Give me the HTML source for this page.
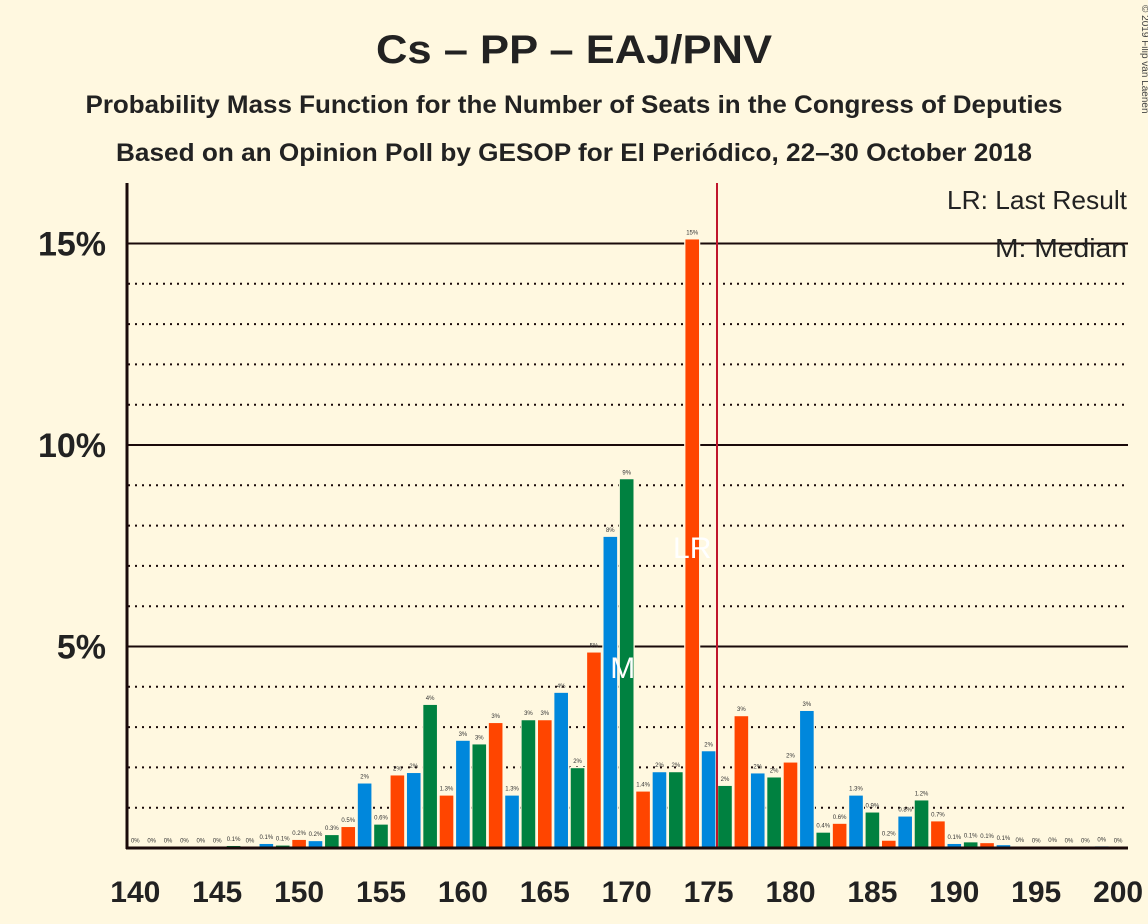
<!DOCTYPE html>
<html><head><meta charset="utf-8"><style>
body{margin:0;background:#FFF8E0;}
svg{display:block;font-family:"Liberation Sans",sans-serif;}
</style></head><body>
<svg id="chart" width="1148" height="924" viewBox="0 0 1148 924">
<rect width="1148" height="924" fill="#FFF8E0"/>
<text x="574" y="63" text-anchor="middle" font-size="40" font-weight="bold" fill="#222" textLength="396" lengthAdjust="spacingAndGlyphs">Cs – PP – EAJ/PNV</text>
<text x="574" y="113" text-anchor="middle" font-size="25" font-weight="bold" fill="#222" textLength="977" lengthAdjust="spacingAndGlyphs">Probability Mass Function for the Number of Seats in the Congress of Deputies</text>
<text x="574" y="161" text-anchor="middle" font-size="25" font-weight="bold" fill="#222" textLength="916" lengthAdjust="spacingAndGlyphs">Based on an Opinion Poll by GESOP for El Periódico, 22–30 October 2018</text>
<text x="1142" y="5" transform="rotate(90 1142 5)" font-size="10" fill="#444">© 2019 Filip van Laenen</text>
<g id="grid"></g>
<g id="bars"></g>
<g id="labels"></g>
<line x1="717" y1="183" x2="717" y2="848" stroke="#C0162C" stroke-width="2"/>
<line x1="127" y1="183" x2="127" y2="849" stroke="#1a0a0a" stroke-width="3"/>
<line x1="126" y1="848" x2="1128" y2="848" stroke="#1a0a0a" stroke-width="3"/>
<g id="ticks"></g>
<text x="1127" y="209" text-anchor="end" font-size="26" fill="#222" textLength="180" lengthAdjust="spacingAndGlyphs">LR: Last Result</text>
<text x="1127" y="257" text-anchor="end" font-size="26" fill="#222" textLength="132" lengthAdjust="spacingAndGlyphs">M: Median</text>
</svg>
<script>
const seats=[140,141,142,143,144,145,146,147,148,149,150,151,152,153,154,155,156,157,158,159,160,161,162,163,164,165,166,167,168,169,170,171,172,173,174,175,176,177,178,179,180,181,182,183,184,185,186,187,188,189,190,191,192,193,194,195,196,197,198,199,200];
const probs=[0.01,0.01,0.01,0.01,0.01,0.01,0.05,0.01,0.1,0.06,0.2,0.17,0.32,0.52,1.6,0.58,1.8,1.86,3.55,1.3,2.66,2.57,3.1,1.3,3.17,3.17,3.85,1.98,4.85,7.72,9.15,1.4,1.88,1.88,15.1,2.4,1.54,3.27,1.85,1.75,2.12,3.4,0.38,0.6,1.3,0.88,0.18,0.78,1.18,0.66,0.1,0.14,0.12,0.07,0.03,0.01,0.03,0.01,0.01,0.04,0.01];
const xTicks=[140,145,150,155,160,165,170,175,180,185,190,195,200];
const yTicks=[5,10,15];
const lastResult=176, median=170;
const NS='http://www.w3.org/2000/svg';
const X=s=>135.3+(s-140)*16.38;
const Y=p=>848-p*40.3;
const colors=['#FF4500','#0087DC','#008140'];
const grid=document.getElementById('grid'),bars=document.getElementById('bars'),labels=document.getElementById('labels'),ticks=document.getElementById('ticks');
function mk(tag,a,parent){const e=document.createElementNS(NS,tag);for(const k in a)e.setAttribute(k,a[k]);parent.appendChild(e);return e;}
for(let p=1;p<=15;p++){
  const solid=yTicks.includes(p);
  const l=mk('line',{x1:128,x2:1128,y1:Y(p),y2:Y(p),stroke:'#1a0a0a','stroke-width':2,'stroke-dasharray':solid?'none':'2,5'},grid);
  
  
}
yTicks.forEach(p=>{
  const t=mk('text',{x:106,y:Y(p)+12,'text-anchor':'end','font-size':34,'font-weight':'bold',fill:'#222'},ticks);
  t.textContent=p+'%';
  
  
});
xTicks.forEach(s=>{
  const t=mk('text',{x:X(s),y:902,'text-anchor':'middle','font-size':30,'font-weight':'bold',fill:'#222'},ticks);
  t.textContent=s;
  
  
});
seats.forEach((s,i)=>{
  const v=probs[i];
  const r=mk('rect',{x:X(s)-6.8,y:Y(v),width:13.6,height:848-Y(v),fill:colors[((s-150)%3+3)%3],stroke:'#FFF8E0','stroke-width':2.5,'paint-order':'stroke'},bars);
  
  
  const lab=v<0.05?'0%':(v<1.5?v.toFixed(1)+'%':Math.round(v)+'%');
  const t=mk('text',{x:X(s),y:Y(v)-5,'text-anchor':'middle','font-size':6,fill:'#333'},labels);
  t.textContent=lab;
  
  
});
const m=mk('text',{x:X(median)-4,y:678,'text-anchor':'middle','font-size':30,fill:'#fff'},labels);
m.textContent='M';


const lr=mk('text',{x:X(174),y:558,'text-anchor':'middle','font-size':30,fill:'#fff'},labels);
lr.textContent='LR';


</script>
</body></html>
